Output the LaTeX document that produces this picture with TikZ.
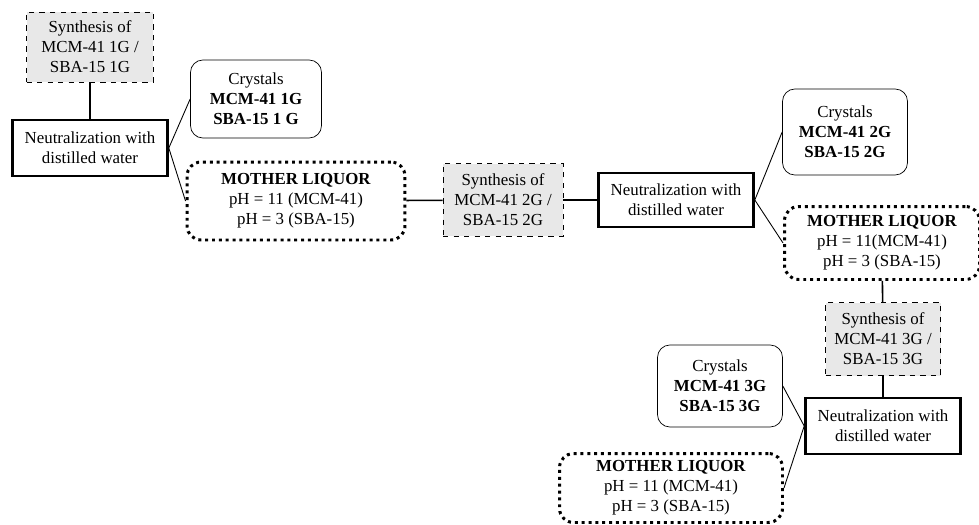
\documentclass[tikz,border=0pt]{standalone}
\usepackage{fontspec}
\setmainfont{Liberation Serif}

\tikzset{
  synth/.style={draw, dashed, fill=gray!18, align=center, inner sep=1pt,
    minimum width=2.4cm, minimum height=1.46cm},
  neutral/.style={draw, line width=1.5pt, align=center, inner sep=1pt,
    minimum width=3.1cm, minimum height=1.12cm},
  crystals/.style={draw, rounded corners=7pt, align=center, inner sep=1pt,
    minimum width=2.5cm, minimum height=1.64cm},
  mother/.style={draw, line width=1.7pt, dash pattern=on 1.7pt off 2.2pt,
    rounded corners=8pt, align=center, inner sep=1pt,
    minimum width=4.36cm, minimum height=1.56cm},
  link/.style={line width=0.9pt},
  branch/.style={line width=0.5pt}
}

\begin{document}
\begin{tikzpicture}[x=0.02cm, y=-0.02cm, font=\fontsize{9.6}{11.4}\selectfont]
\useasboundingbox (0,0) rectangle (979,524);

% first generation
\node[synth, minimum width=2.54cm, minimum height=1.4cm] (syn1) at (90,47) {Synthesis of\\MCM-41 1G /\\SBA-15 1G};
\node[neutral] (neu1) at (90,148) {Neutralization with\\distilled water};
\node[crystals, minimum width=2.62cm, minimum height=1.56cm] (cry1) at (256,99) {Crystals\\\textbf{MCM-41 1G}\\\textbf{SBA-15 1 G}};
\node[mother] (mot1) at (296,201) {\textbf{MOTHER LIQUOR}\\pH = 11 (MCM-41)\\pH = 3 (SBA-15)};

\draw[link] (syn1) -- (neu1);
\draw[branch] (neu1.east) -- (cry1.west);
\draw[branch] (neu1.east) -- (mot1.west);

%-------------------------------------
% second generation
\node[synth] (syn2) at (503,200) {Synthesis of\\MCM-41 2G /\\SBA-15 2G};
\node[neutral, minimum height=1.08cm] (neu2) at (676,200) {Neutralization with\\distilled water};
\node[crystals, minimum height=1.72cm] (cry2) at (845,132) {Crystals\\\textbf{MCM-41 2G}\\\textbf{SBA-15 2G}};
\node[mother, minimum width=3.9cm, minimum height=1.46cm] (mot2) at (882,243) {\textbf{MOTHER LIQUOR}\\pH = 11(MCM-41)\\pH = 3 (SBA-15)};

\draw[link] (mot1) -- (syn2);
\draw[link] (syn2) -- (neu2);
\draw[branch] (neu2.east) -- (cry2.west);
\draw[branch] (neu2.east) -- (mot2.west);

%-------------------------------------
% third generation
\node[synth, minimum width=2.3cm] (syn3) at (883,339) {Synthesis of\\MCM-41 3G /\\SBA-15 3G};
\node[neutral] (neu3) at (883,426) {Neutralization with\\distilled water};
\node[crystals] (cry3) at (720,386) {Crystals\\\textbf{MCM-41 3G}\\\textbf{SBA-15 3G}};
\node[mother, minimum width=4.46cm, minimum height=1.38cm] (mot3) at (671,488) {\textbf{MOTHER LIQUOR}\\pH = 11 (MCM-41)\\pH = 3 (SBA-15)};

\draw[link] (mot2) -- (syn3);
\draw[link] (syn3) -- (neu3);
\draw[branch] (neu3.west) -- (cry3.east);
\draw[branch] (neu3.west) -- (mot3.east);

\end{tikzpicture}
\end{document}
